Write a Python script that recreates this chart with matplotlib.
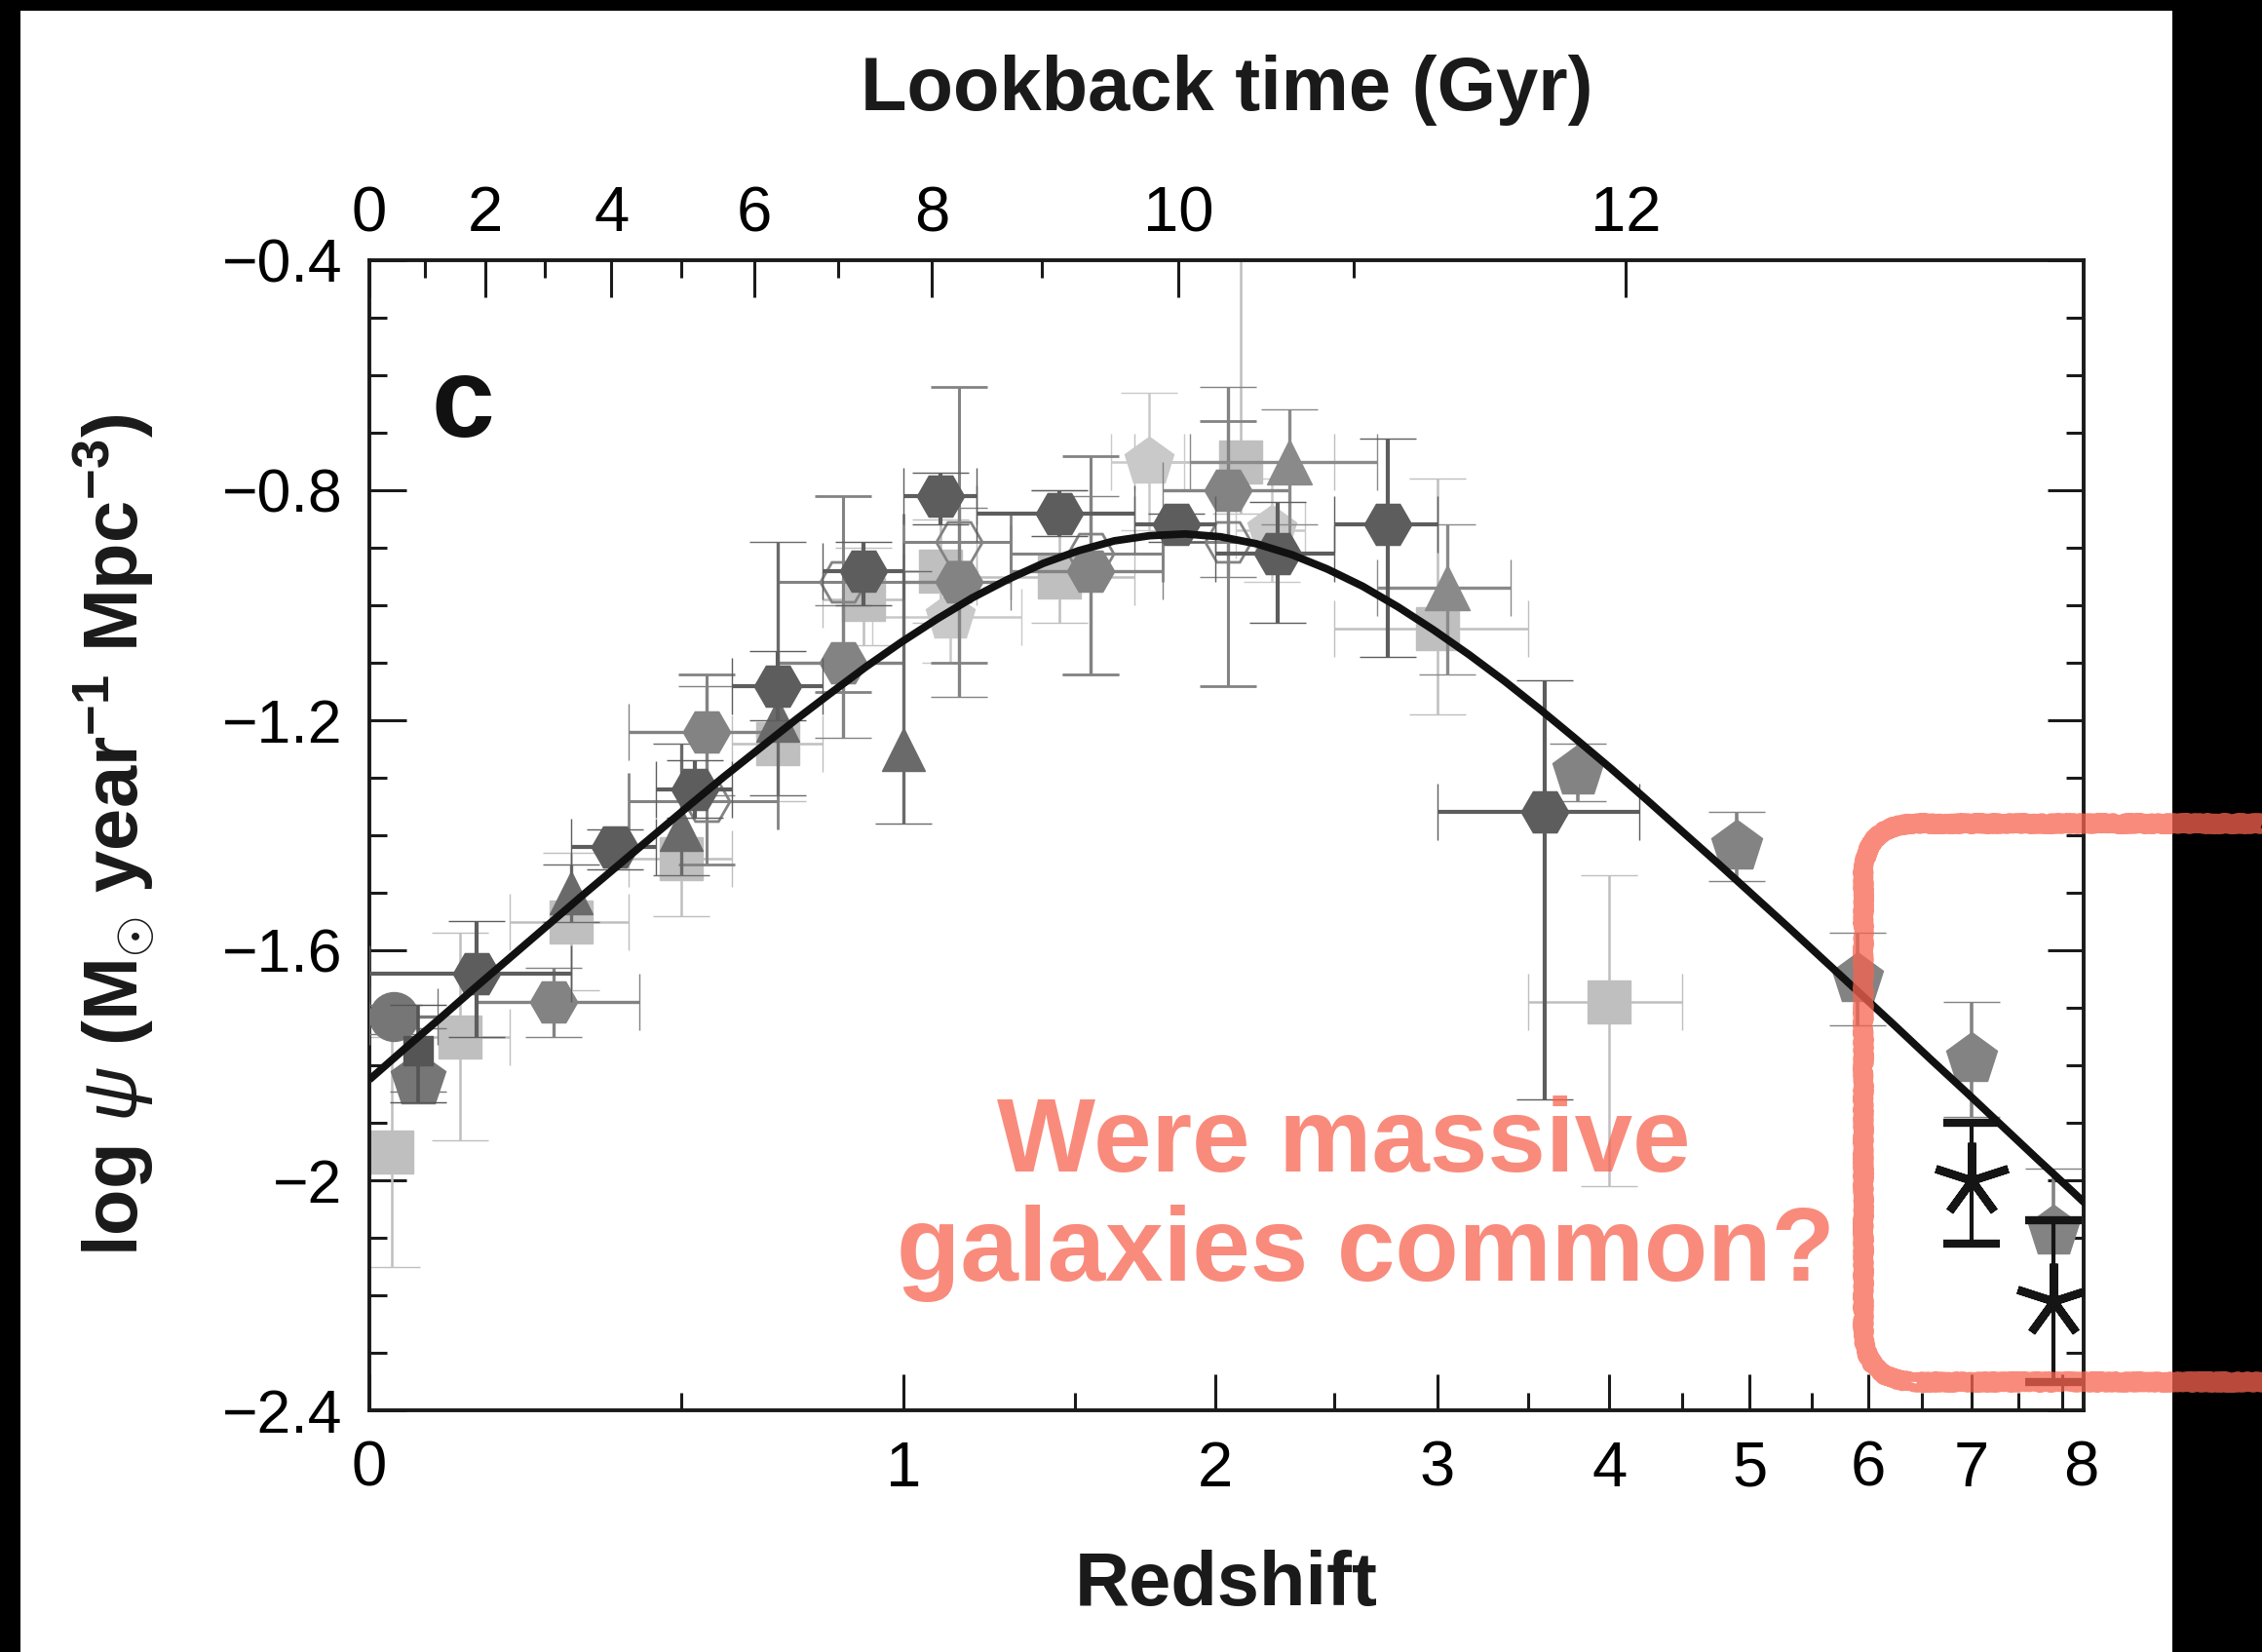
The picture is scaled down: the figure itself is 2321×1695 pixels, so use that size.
import numpy as np
import matplotlib
matplotlib.use("Agg")
import matplotlib.pyplot as plt
from matplotlib.patches import FancyBboxPatch, Rectangle
from matplotlib.transforms import Affine2D, ScaledTranslation
from matplotlib.ticker import FixedLocator, FixedFormatter, FuncFormatter, MultipleLocator

W, H, DPI = 2321, 1695, 100

plt.rcParams["font.family"] = ["Liberation Sans", "DejaVu Sans"]
plt.rcParams["mathtext.fontset"] = "custom"
plt.rcParams["mathtext.rm"] = "Liberation Sans"
plt.rcParams["mathtext.it"] = "Liberation Sans:italic"
plt.rcParams["mathtext.bf"] = "Liberation Sans:bold"

# ---------------- data ----------------
# Gruppioni et al. 2013 (IR, dark hexagons)
grp_z = [0.15, 0.375, 0.525, 0.70, 0.90, 1.10, 1.45, 1.85, 2.25, 2.75, 3.60]
grp_lo = [0.00, 0.30, 0.45, 0.60, 0.80, 1.00, 1.20, 1.70, 2.00, 2.50, 3.00]
grp_hi = [0.30, 0.45, 0.60, 0.80, 1.00, 1.20, 1.70, 2.00, 2.50, 3.00, 4.20]
grp_v = [-1.64, -1.42, -1.32, -1.14, -0.94, -0.81, -0.84, -0.86, -0.91, -0.86, -1.36]
grp_up = [0.09, 0.03, 0.05, 0.06, 0.05, 0.04, 0.04, 0.02, 0.09, 0.15, 0.23]
grp_dn = [0.11, 0.04, 0.05, 0.06, 0.06, 0.05, 0.04, 0.03, 0.12, 0.23, 0.50]

# Magnelli et al. 2013 (IR, mid-grey hexagons)
mg13_z = [0.27, 0.55, 0.85, 1.15, 1.55, 2.05]
mg13_lo = [0.15, 0.40, 0.70, 1.00, 1.30, 1.80]
mg13_hi = [0.42, 0.70, 1.00, 1.30, 1.80, 2.30]
mg13_v = [-1.69, -1.22, -1.10, -0.96, -0.94, -0.80]
mg13_up = [0.06, 0.08, 0.10, 0.13, 0.13, 0.18]
mg13_dn = [0.06, 0.11, 0.13, 0.20, 0.18, 0.15]

# Magnelli et al. 2011 (IR, open hexagons)
mg11_z = [0.55, 0.85, 1.15, 1.55, 2.05]
mg11_lo = [0.40, 0.70, 1.00, 1.30, 1.80]
mg11_hi = [0.70, 1.00, 1.30, 1.80, 2.30]
mg11_v = [-1.34, -0.96, -0.89, -0.91, -0.89]
mg11_up = [0.22, 0.15, 0.27, 0.17, 0.21]
mg11_dn = [0.11, 0.19, 0.21, 0.21, 0.25]

# Cucciati et al. 2012 (UV, light squares)
cuc_z = [0.125, 0.30, 0.50, 0.70, 0.90, 1.10, 1.45, 2.10, 3.00, 4.00]
cuc_lo = [0.05, 0.20, 0.40, 0.60, 0.80, 1.00, 1.20, 1.70, 2.50, 3.50]
cuc_hi = [0.20, 0.40, 0.60, 0.80, 1.00, 1.20, 1.70, 2.50, 3.50, 4.50]
cuc_v = [-1.75, -1.55, -1.44, -1.24, -0.99, -0.94, -0.95, -0.75, -1.04, -1.69]
cuc_up = [0.18, 0.12, 0.10, 0.10, 0.09, 0.09, 0.15, 0.49, 0.26, 0.22]
cuc_dn = [0.18, 0.12, 0.10, 0.10, 0.08, 0.09, 0.08, 0.09, 0.15, 0.32]

# Takeuchi et al. 2003 (IR, light square)
tak_z = [0.03]
tak_v = [-1.95]
tak_up = [0.20]
tak_dn = [0.20]

# Sanders et al. 2003 (IR, circle)
san_z = [0.032]
san_lo = [0.0]
san_hi = [0.093]
san_v = [-1.715]
san_up = [0.02]
san_dn = [0.03]

# Robotham & Driver 2011 (UV, dark square)
rob_z = [0.065]
rob_v = [-1.775]
rob_up = [0.08]
rob_dn = [0.09]

# Wyder et al. 2005 (UV, pentagon)
wyd_z = [0.065]
wyd_v = [-1.825]
wyd_up = [0.09]
wyd_dn = [0.02]

# Schiminovich et al. 2005 (UV, triangles)
sch_z = [0.30, 0.50, 0.70, 1.00]
sch_v = [-1.50, -1.39, -1.20, -1.25]
sch_up = [0.05, 0.15, 0.31, 0.31]
sch_dn = [0.05, 0.08, 0.13, 0.13]

# Dahlen et al. 2007 (UV, light pentagons)
dah_z = [1.125, 1.75, 2.225]
dah_lo = [0.92, 1.62, 2.08]
dah_hi = [1.33, 1.88, 2.37]
dah_v = [-1.02, -0.75, -0.87]
dah_up = [0.08, 0.12, 0.09]
dah_dn = [0.08, 0.12, 0.09]

# Reddy & Steidel 2009 (UV, triangles)
red_z = [2.30, 3.05]
red_lo = [1.90, 2.70]
red_hi = [2.70, 3.40]
red_v = [-0.75, -0.97]
red_up = [0.09, 0.11]
red_dn = [0.11, 0.15]

# Bouwens et al. 2012 (UV, pentagons)
bou_z = [3.8, 4.9, 5.9, 7.0, 7.9]
bou_v = [-1.29, -1.42, -1.65, -1.79, -2.09]
bou_err = [0.05, 0.06, 0.08, 0.10, 0.11]

# Schenker et al. 2013 (UV, asterisks)
sck_z = [7.0, 7.9]
sck_v = [-2.00, -2.21]
sck_up = [0.10, 0.14]
sck_dn = [0.11, 0.14]

# best-fit star-formation history, sampled in log10(1+z)
fit_log1pz = [0.00, 0.02, 0.04, 0.06, 0.08, 0.10, 0.12, 0.14, 0.16, 0.18,
              0.20, 0.22, 0.24, 0.26, 0.28, 0.30, 0.32, 0.34, 0.36, 0.38,
              0.40, 0.42, 0.44, 0.46, 0.48, 0.50, 0.52, 0.54, 0.56, 0.58,
              0.60, 0.62, 0.64, 0.66, 0.68, 0.70, 0.72, 0.74, 0.76, 0.78,
              0.80, 0.82, 0.84, 0.86, 0.88, 0.90, 0.92, 0.94, 0.96, 0.97]
fit_logpsi = [-1.825, -1.771, -1.718, -1.664, -1.611, -1.558, -1.505, -1.453,
              -1.401, -1.349, -1.298, -1.249, -1.200, -1.153, -1.107, -1.064,
              -1.024, -0.987, -0.955, -0.927, -0.905, -0.888, -0.879, -0.876,
              -0.881, -0.893, -0.912, -0.937, -0.967, -1.003, -1.043, -1.086,
              -1.132, -1.181, -1.232, -1.284, -1.338, -1.393, -1.448, -1.504,
              -1.560, -1.617, -1.674, -1.731, -1.789, -1.846, -1.904, -1.962,
              -2.019, -2.048]

# axis ticks
z_ticks = [0, 1, 2, 3, 4, 5, 6, 7, 8]
z_minor = [0.5, 1.5, 2.5, 3.5, 4.5, 5.5, 6.5, 7.5]
lookback_labels = ["0", "2", "4", "6", "8", "10", "12"]
lookback_major_z = [0.0, 0.163, 0.369, 0.648, 1.075, 1.858, 4.108]
lookback_minor_z = [0.075, 0.256, 0.499, 0.838, 1.394, 2.589]
y_ticks = [-2.4, -2.0, -1.6, -1.2, -0.8, -0.4]

# ---------------- figure ----------------
fig = plt.figure(figsize=(W / DPI, H / DPI), dpi=DPI, facecolor="white")
ax = fig.add_axes([379 / W, (H - 1447) / H, (2138 - 379) / W, (1447 - 267) / H])


def fwd(z):
    return np.log10(1.0 + np.asarray(z, float))


def inv(x):
    return 10.0 ** np.asarray(x, float) - 1.0


ax.set_xscale("function", functions=(fwd, inv))
ax.set_xlim(0, 8.257)
ax.set_ylim(-2.4, -0.4)

DARK = "#5d5d5d"
MID = "#838383"
MID2 = "#767676"
LIGHT = "#bfbfbf"
LIGHT2 = "#c9c9c9"


def series(z, v, up, dn, lo=None, hi=None, marker="H", ms=34, color=DARK,
           face=None, lw=2.4, cs=21, zo=3, mew=1.0):
    z = np.asarray(z, float)
    xerr = None
    if lo is not None:
        xerr = [z - np.asarray(lo, float), np.asarray(hi, float) - z]
    ax.errorbar(z, v, yerr=[dn, up], xerr=xerr, fmt="", marker=marker,
                linestyle="none", ms=ms,
                mfc=color if face is None else face, mec=color, mew=mew,
                ecolor=color, elinewidth=lw, capsize=cs, capthick=lw,
                zorder=zo)


# light UV sets at the back
series(tak_z, tak_v, tak_up, tak_dn, marker="s", ms=32, color=LIGHT, lw=1.8, zo=2)
series(cuc_z, cuc_v, cuc_up, cuc_dn, cuc_lo, cuc_hi, marker="s", ms=32,
       color=LIGHT, lw=1.8, zo=2)
series(dah_z, dah_v, dah_up, dah_dn, dah_lo, dah_hi, marker="p", ms=38,
       color=LIGHT2, lw=1.8, zo=2)
# mid-grey sets
series(mg11_z, mg11_v, mg11_up, mg11_dn, mg11_lo, mg11_hi, marker="H", ms=34,
       color=MID, face="none", lw=2.2, zo=3, mew=2.0)
series(mg13_z, mg13_v, mg13_up, mg13_dn, mg13_lo, mg13_hi, marker="H", ms=35,
       color=MID, lw=2.4, zo=3)
series(san_z, san_v, san_up, san_dn, san_lo, san_hi, marker="o", ms=36,
       color=MID2, lw=2.4, zo=3)
series(wyd_z, wyd_v, wyd_up, wyd_dn, marker="p", ms=42, color=MID2, lw=2.4, zo=3)
series(sch_z, sch_v, sch_up, sch_dn, marker="^", ms=32, color="#6a6a6a", lw=2.4, zo=3)
series(red_z, red_v, red_up, red_dn, red_lo, red_hi, marker="^", ms=33,
       color="#8a8a8a", lw=2.4, zo=3)
series(bou_z, bou_v, bou_err, bou_err, marker="p", ms=40, color=MID, lw=2.6, zo=3)
# dark IR sets in front
series(rob_z, rob_v, rob_up, rob_dn, marker="s", ms=22, color="#555555", lw=2.6, zo=4)
series(grp_z, grp_v, grp_up, grp_dn, grp_lo, grp_hi, marker="H", ms=35,
       color=DARK, lw=3.0, zo=4)
series(sck_z, sck_v, sck_up, sck_dn, marker=(5, 2, 0), ms=56, color="#151515",
       lw=3.0, zo=5, mew=6.0)

# best-fit curve
ax.plot(inv(fit_log1pz), fit_logpsi, color="#111111", lw=5.6, zorder=6,
        solid_joinstyle="round", solid_capstyle="butt")

# ---------------- axes styling ----------------
for s in ax.spines.values():
    s.set_linewidth(2.8)
    s.set_color("#1a1a1a")

ax.xaxis.set_major_locator(FixedLocator(z_ticks))
ax.xaxis.set_major_formatter(FixedFormatter([str(t) for t in z_ticks]))
ax.xaxis.set_minor_locator(FixedLocator(z_minor))
ax.xaxis.set_minor_formatter(FixedFormatter([""] * len(z_minor)))
ax.yaxis.set_major_locator(FixedLocator(y_ticks))
ax.yaxis.set_minor_locator(MultipleLocator(0.1))
ax.yaxis.set_major_formatter(FuncFormatter(lambda v, p: ("%g" % v).replace("-", "\u2212")))

ax.tick_params(axis="both", which="major", direction="in", length=27, width=2.2,
               color="#1a1a1a")
ax.tick_params(axis="both", which="minor", direction="in", length=13, width=2.2,
               color="#1a1a1a")
ax.tick_params(axis="x", which="both", bottom=True, top=False, labelsize=47, pad=22)
ax.tick_params(axis="y", which="both", left=True, right=True, labelsize=45, pad=20)

# the last redshift label sits against the right frame
last_tick = ax.xaxis.get_major_ticks(len(z_ticks))[-1]
last_tick.label1.set_transform(last_tick.label1.get_transform()
                               + ScaledTranslation(0.2, 0, fig.dpi_scale_trans))

# lookback-time axis on top
ax2 = ax.twiny()
ax2.set_xscale("function", functions=(fwd, inv))
ax2.set_xlim(ax.get_xlim())
ax2.xaxis.tick_top()
ax2.xaxis.set_major_locator(FixedLocator(lookback_major_z))
ax2.xaxis.set_major_formatter(FixedFormatter(lookback_labels))
ax2.xaxis.set_minor_locator(FixedLocator(lookback_minor_z))
ax2.xaxis.set_minor_formatter(FixedFormatter([""] * len(lookback_minor_z)))
ax2.tick_params(axis="x", which="major", direction="in", length=27, width=2.2,
                labelsize=47, pad=12, color="#1a1a1a")
ax2.tick_params(axis="x", which="minor", direction="in", length=13, width=2.2,
                color="#1a1a1a")
for s in ax2.spines.values():
    s.set_visible(False)

# axis titles
ax.text(0.5, 1.1305, "Lookback time (Gyr)", transform=ax.transAxes, ha="center",
        va="baseline", fontsize=56, fontweight="bold", color="#1a1a1a")
ax.text(0.5, -0.1695, "Redshift", transform=ax.transAxes, ha="center",
        va="baseline", fontsize=56, fontweight="bold", color="#1a1a1a")
ax.text(-0.149, 0.5,
        r"log $\psi$ (M$_{\odot}$ year$^{\mathbf{-1}}$ Mpc$^{\mathbf{-3}}$)",
        transform=ax.transAxes, rotation=90, ha="center", va="center",
        fontsize=56, fontweight="bold", color="#1a1a1a")
ax.text(0.036, 0.847, "c", transform=ax.transAxes, ha="left", va="baseline",
        fontsize=84, fontweight="bold", color="#111111")

# ---------------- overlay in pixel coordinates ----------------
px = Affine2D().scale(1.0 / W, 1.0 / H) + fig.transFigure

for (x0, y0, w, h) in [(0, H - 11, W, 11), (0, 0, 21, H), (2229, 0, W - 2229, H)]:
    fig.patches.append(Rectangle((x0, y0), w, h, transform=px, facecolor="black",
                                 edgecolor="none", zorder=5))

NOTE = (248 / 255, 100 / 255, 80 / 255)
box = FancyBboxPatch((1912, H - 1418), 620, 1418 - 845,
                     boxstyle="round,pad=0,rounding_size=55", transform=px,
                     fill=False, edgecolor=NOTE, linewidth=13.5, alpha=0.75,
                     joinstyle="round", zorder=10)
box.set_sketch_params(scale=1.5, length=3.0, randomness=6.0)
fig.patches.append(box)

fig.text(1379 / W, (H - 1202) / H, "Were massive", transform=fig.transFigure,
         ha="center", va="baseline", fontsize=77, fontweight="bold",
         color=NOTE, alpha=0.75, zorder=11)
fig.text(1401 / W, (H - 1314) / H, "galaxies common?", transform=fig.transFigure,
         ha="center", va="baseline", fontsize=77, fontweight="bold",
         color=NOTE, alpha=0.75, zorder=11)

fig.savefig("out.png", dpi=DPI, facecolor="white")
